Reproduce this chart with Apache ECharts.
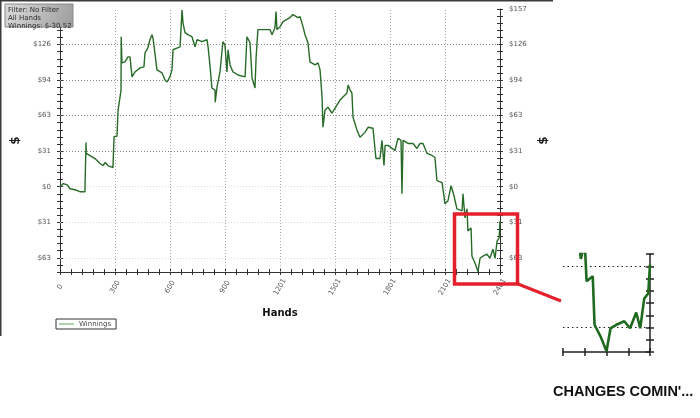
<!DOCTYPE html>
<html><head><meta charset="utf-8">
<script src="https://cdn.jsdelivr.net/npm/echarts@6/dist/echarts.min.js"></script>
<style>html,body{margin:0;padding:0;background:#fff}#c{width:700px;height:418px}</style>
</head><body><div id="c"></div>
<script>
const hands = [0,16,38,55,82,109,136,142,143,153,191,218,235,246,262,289,295,311,317,327,333,334,338,355,371,382,393,409,437,458,464,480,491,502,508,518,529,557,573,584,600,611,617,644,655,666,671,682,698,720,737,748,775,802,808,819,829,846,847,857,873,889,900,911,917,928,944,971,1010,1020,1037,1048,1064,1070,1080,1108,1146,1157,1173,1179,1184,1201,1217,1255,1271,1299,1310,1326,1337,1353,1364,1392,1408,1419,1430,1435,1446,1462,1484,1501,1528,1566,1572,1583,1593,1599,1621,1637,1664,1681,1708,1724,1746,1757,1768,1774,1790,1812,1828,1844,1861,1866,1872,1899,1926,1948,1965,1981,2003,2030,2046,2057,2085,2101,2117,2134,2150,2166,2194,2199,2210,2221,2226,2243,2248,2265,2281,2292,2308,2330,2346,2363,2374,2385,2396,2401];
const winnings = [0,2.7,1.8,-1.8,-2.7,-4.4,-4.4,39.1,29.4,28.5,
24.9,20.5,18.7,21.3,18.7,16.9,44.5,44.5,67.6,68.5,
85.4,132.5,109.4,110.3,114.7,114.7,97.0,101.4,105.0,105.9,
118.3,122.8,129.9,134.3,130.8,129.9,103.2,100.5,94.3,92.5,
97.0,103.2,121.0,122.8,123.6,156,145.0,136.1,134.3,132.5,
123.6,129.9,128.1,129.9,123.6,105.9,87.2,85.4,74.7,88.1,
101.4,128.1,125.4,101.4,121.0,107.6,101.4,98.7,97.0,132.5,
127.2,96.1,87.2,113.9,138.8,138.8,138.8,134.3,140.5,154.8,
138.8,141.4,145.9,149.4,152.1,149.4,150.3,141.4,134.3,127.2,
110.3,107.6,109.4,103.2,79.2,52.5,67.6,70.3,64.9,69.4,
76.5,82.7,89.8,85.4,82.7,61.4,49.8,43.6,48.0,52.5,
51.6,24.9,24.9,40.9,18.7,36.5,36.5,33.8,32.0,42.7,
40.9,-6.2,40.9,38.2,38.2,33.8,38.2,38.2,29.4,27.6,
25.8,5.3,3.6,-15.1,-12.5,0.9,-8.0,-19.6,-21.3,-6.2,
-27.6,-19.6,-39.1,-36.5,-61.4,-67.6,-75,-63.2,-61.4,-59.6,
-63.2,-55.1,-63.2,-48.0,-45.4,-30.52];
const xTickLabels = ['0','300','600','900','1201','1501','1801','2101','2401'];
const yTickValues = [157,125.6,94.2,62.8,31.4,0,-31.4,-62.8];
const yTickLabels = ['$157','$126','$94','$63','$31','$0','$31','$63'];
const infoLines = ['Filter: No Filter','All Hands','Winnings: $-30.52'];
const seriesName = 'Winnings';
const noteText = "CHANGES COMIN'...";

const X_MAX = 2401, X_STEP = X_MAX/40, Y_STEP = 6.28, Y_MIN = -12*Y_STEP, Y_MAX = 25*Y_STEP;
const pts = hands.map((h,i)=>[h,winnings[i]]);
const FONT = 'DejaVu Sans';
function xLabel(v){ const k=Math.round(v/X_STEP); return (k%5===0 && k>=0) ? (xTickLabels[k/5]||'') : ''; }
function yLabel(v){ const k=Math.round(v/Y_STEP); if(k%5!==0) return ''; const i=yTickValues.findIndex(t=>Math.abs(t-v)<0.05); return i>=0?yTickLabels[i]:''; }

function xAx(grid, inside, opts){
  return Object.assign({type:'value', gridIndex:grid, position:'bottom', min:0, max:X_MAX, interval:X_STEP,
    axisLine:{show:!inside, onZero:false, lineStyle:{color:'#333',width:1}},
    axisTick:{show:true, inside:inside, length:3, lineStyle:{color:'#333'}},
    axisLabel:{show:false}, splitLine:{show:false}}, opts||{});
}
function yAx(grid, pos, inside, opts){
  return Object.assign({type:'value', gridIndex:grid, position:pos, min:Y_MIN, max:Y_MAX, interval:Y_STEP,
    axisLine:{show:!inside, onZero:false, lineStyle:{color:'#333',width:1}},
    axisTick:{show:true, inside:inside, length:3, lineStyle:{color:'#333'}},
    axisLabel:{show:false}, splitLine:{show:false}}, opts||{});
}
const yLab = {show:true, formatter:yLabel, fontSize:7, fontFamily:FONT, color:'#555', margin:9};
const dollarName = {name:'$', nameLocation:'middle', nameGap:35, nameRotate:90,
  nameTextStyle:{fontSize:12, fontWeight:'bold', color:'#222', fontFamily:FONT}};

const gridLines = [];
yTickValues.slice(1).forEach(v=>gridLines.push({yAxis:v, lineStyle:{color: v>0?'#8a8a8a':'#d8d8d8', type:[1,2], width:1}}));
for(let k=1;k<xTickLabels.length-1;k++) gridLines.push({xAxis:k*5*X_STEP, lineStyle:{color:'#a8a8a8', type:[1,2], width:1}});

const INSET_XMIN = 36*X_STEP, INSET_YMIN = -12*Y_STEP, INSET_YMAX = -4*Y_STEP;

const option = {
  animation:false,
  backgroundColor:'#fff',
  grid:[{left:60, top:9, width:440, height:263},
        {left:563, top:254, width:87, height:98}],
  xAxis:[
    xAx(0,false,{axisLabel:{show:true, formatter:xLabel, rotate:60, align:'center', verticalAlign:'middle', margin:15, fontSize:7, fontFamily:FONT, color:'#555'},
      name:'Hands', nameLocation:'middle', nameGap:36, nameTextStyle:{fontSize:10, fontWeight:'bold', color:'#111', fontFamily:FONT}}),
    xAx(0,true),
    xAx(1,false,{min:INSET_XMIN, axisLine:{show:true,onZero:false,lineStyle:{color:'#222',width:1.5}}, axisTick:{show:true,length:4,lineStyle:{color:'#222',width:1.5}}}),
    xAx(1,true,{min:INSET_XMIN, axisTick:{show:true,inside:true,length:4,lineStyle:{color:'#222',width:1.5}}})
  ],
  yAxis:[
    yAx(0,'left',false,Object.assign({axisLabel:yLab}, dollarName)),
    yAx(0,'right',false,Object.assign({axisLabel:yLab}, dollarName)),
    yAx(0,'left',true),
    yAx(0,'right',true),
    yAx(1,'right',false,{min:INSET_YMIN, max:INSET_YMAX, axisLine:{show:true,onZero:false,lineStyle:{color:'#222',width:1.5}}, axisTick:{show:true,length:4,lineStyle:{color:'#222',width:1.5}}}),
    yAx(1,'right',true,{min:INSET_YMIN, max:INSET_YMAX, axisTick:{show:true,inside:true,length:4,lineStyle:{color:'#222',width:1.5}}})
  ],
  legend:{data:[{name:seriesName, icon:'rect'}], left:56, top:319, orient:'horizontal', itemWidth:15, itemHeight:1.2, padding:[1,5,1,3],
    borderColor:'#333', borderWidth:1, textStyle:{fontSize:7, fontFamily:FONT, color:'#444', lineHeight:8}},
  series:[
    {type:'line', name:'grid', xAxisIndex:0, yAxisIndex:0, data:[], z:1, silent:true,
      markLine:{silent:true, symbol:'none', label:{show:false}, animation:false, z:1, data:gridLines}},
    {type:'line', name:seriesName, xAxisIndex:0, yAxisIndex:0, data:pts, showSymbol:false, symbol:'none', z:3,
      lineStyle:{color:'#276b27', width:1.4}, itemStyle:{color:'#79b879'}},
    {type:'line', name:'inset', xAxisIndex:2, yAxisIndex:4, data:pts, showSymbol:false, symbol:'none', z:3, clip:true,
      lineStyle:{color:'#1f6a1f', width:2.6},
      markLine:{silent:true, symbol:'none', label:{show:false}, animation:false, z:1,
        data:[{yAxis:-31.4},{yAxis:-62.8}], lineStyle:{color:'#222', type:[1.5,3], width:1.2}}}
  ],
  graphic:[
    {type:'line', shape:{x1:0,y1:0.5,x2:553,y2:0.5}, style:{stroke:'#3a3a3a', lineWidth:2}, z:50},
    {type:'line', shape:{x1:0.5,y1:0,x2:0.5,y2:336}, style:{stroke:'#3a3a3a', lineWidth:2}, z:50},
    {type:'rect', z:100, zlevel:1, shape:{x:5,y:4,width:68,height:23}, style:{fill:new echarts.graphic.LinearGradient(0,0,1,1,[{offset:0,color:'#dcdcdc'},{offset:1,color:'#9c9c9c'}]), stroke:'#888', lineWidth:1}},
    {type:'text', z:101, zlevel:1, x:8, y:6, style:{text:infoLines.join('\n'), fontSize:7, lineHeight:8, fontFamily:FONT, fill:'#2a2a2a'}},
    {type:'rect', shape:{x:454.5,y:214,width:63,height:70}, style:{fill:null, stroke:'#e3202b', lineWidth:3.5}, z:70},
    {type:'line', shape:{x1:518,y1:284,x2:561,y2:301}, style:{stroke:'#e3202b', lineWidth:3}, z:70},
    {type:'text', x:553, y:384, style:{text:noteText, fontSize:14.5, fontWeight:'bold', fontFamily:'Liberation Sans', fill:'#111'}, z:70}
  ]
};
echarts.init(document.getElementById('c'), null, {renderer:'canvas'}).setOption(option);
</script></body></html>
